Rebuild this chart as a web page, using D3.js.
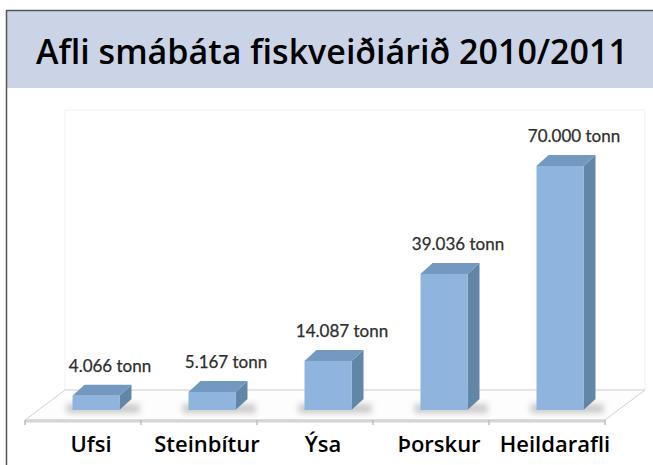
<!DOCTYPE html>
<html>
<head>
<meta charset="utf-8">
<script src="https://cdn.jsdelivr.net/npm/d3@7"></script>
<style>
  body { margin: 0; background: #fff; }
  svg { display: block; }
</style>
</head>
<body>
<svg width="653" height="465"></svg>
<script>
(function () {

	var titleText = "Afli smábáta fiskveiðiárið 2010/2011";
	var categories = ["Ufsi", "Steinbítur", "Ýsa", "Þorskur", "Heildarafli"];
	var tonnes = [4066, 5167, 14087, 39036, 70000];
	var valueLabels = ["4.066 tonn", "5.167 tonn", "14.087 tonn", "39.036 tonn", "70.000 tonn"];

	var data = categories.map(function (c, i) {
		return { name: c, value: tonnes[i], label: valueLabels[i] };
	});

	var svg = d3.select("svg");

	// frame + title band
	svg.append("rect")
		.attr("x", 6).attr("y", 10)
		.attr("width", 660).attr("height", 78)
		.attr("fill", "#cbd4e6");
	svg.append("path")
		.attr("d", "M6.5,470 V10.5 H660")
		.attr("fill", "none")
		.attr("stroke", "#555")
		.attr("stroke-width", 1.5);

	var title = svg.append("text")
		.attr("x", 36).attr("y", 64)
		.attr("font-family", "Open Sans")
		.attr("font-weight", 600)
		.attr("font-size", 30)
		.attr("fill", "#000")
		.text(titleText);
	var tw = title.node().getComputedTextLength();
	title.attr("font-size", 30 * 592 / tw);

	// scales
	var xScale = d3.scaleBand()
		.domain(categories)
		.range([25, 605]);

	var yScale = d3.scaleLinear()
		.domain([0, 70000])
		.range([410, 166]);

	var floorY = 420, floorDx = 40, floorDy = 30;
	var barW = 47, dx = 12, dy = 11, shift = 13;

	var defs = svg.append("defs");
	defs.append("filter").attr("id", "blur")
		.attr("x", "-50%").attr("y", "-50%").attr("width", "200%").attr("height", "200%")
		.append("feGaussianBlur").attr("stdDeviation", 3);

	var x0 = xScale.range()[0], x1 = xScale.range()[1];

	// back wall
	svg.append("rect")
		.attr("x", x0 + floorDx).attr("y", 110)
		.attr("width", x1 - x0).attr("height", floorY - floorDy - 110)
		.attr("fill", "#fff")
		.attr("stroke", "#f1f1f1");

	// floor
	svg.append("path")
		.attr("d", "M" + x0 + "," + floorY + " L" + x1 + "," + floorY +
			" L" + (x1 + floorDx) + "," + (floorY - floorDy) +
			" L" + (x0 + floorDx) + "," + (floorY - floorDy) + "Z")
		.attr("fill", "#fdfdfd")
		.attr("stroke", "#d0d0d0")
		.attr("stroke-width", 1);

	svg.append("line")
		.attr("x1", x0).attr("x2", x1)
		.attr("y1", floorY + 1).attr("y2", floorY + 1)
		.attr("stroke", "#d4d4d4")
		.attr("stroke-width", 3);

	var ticks = [x0].concat(categories.map(function (c) { return xScale(c) + xScale.bandwidth(); }));
	svg.selectAll("line.tick")
		.data(ticks)
		.enter()
		.append("line")
		.attr("class", "tick")
		.attr("x1", function (d) { return d; })
		.attr("x2", function (d) { return d; })
		.attr("y1", floorY)
		.attr("y2", floorY + 5)
		.attr("stroke", "#bdbdbd")
		.attr("stroke-width", 1.5);

	function bx(d) {
		return xScale(d.name) + (xScale.bandwidth() - barW) / 2 + shift;
	}

	// shadows
	svg.selectAll("rect.shadow")
		.data(data)
		.enter()
		.append("rect")
		.attr("class", "shadow")
		.attr("x", function (d) { return bx(d) - 6; })
		.attr("y", yScale(0) - 6)
		.attr("width", barW + dx + 14)
		.attr("height", 9)
		.attr("fill", "#7a7a7a")
		.attr("opacity", 0.4)
		.attr("filter", "url(#blur)");

	var bars = svg.selectAll("g.bar")
		.data(data)
		.enter()
		.append("g")
		.attr("class", "bar");

	// side face
	bars.append("path")
		.attr("d", function (d) {
			var l = bx(d) + barW, t = yScale(d.value), b = yScale(0);
			return "M" + l + "," + b + " L" + l + "," + t +
				" L" + (l + dx) + "," + (t - dy) + " L" + (l + dx) + "," + (b - dy) + "Z";
		})
		.attr("fill", "#6286a8");

	// top face
	bars.append("path")
		.attr("d", function (d) {
			var l = bx(d), t = yScale(d.value);
			return "M" + l + "," + t + " L" + (l + barW) + "," + t +
				" L" + (l + barW + dx) + "," + (t - dy) + " L" + (l + dx) + "," + (t - dy) + "Z";
		})
		.attr("fill", "#7399c1");

	// front face
	bars.append("rect")
		.attr("x", bx)
		.attr("y", function (d) { return yScale(d.value); })
		.attr("width", barW)
		.attr("height", function (d) { return yScale(0) - yScale(d.value); })
		.attr("fill", "#8fb5df");

	// value labels
	bars.append("text")
		.attr("x", function (d) { return bx(d) + barW / 2 + dx + 2; })
		.attr("y", function (d) { return yScale(d.value) - dy - 13; })
		.attr("text-anchor", "middle")
		.attr("font-family", "Lato")
		.attr("font-size", 17)
		.attr("fill", "#2e2e2e")
		.attr("stroke", "#2e2e2e")
		.attr("stroke-width", 0.25)
		.text(function (d) { return d.label; });

	// category labels
	svg.selectAll("text.cat")
		.data(categories)
		.enter()
		.append("text")
		.attr("class", "cat")
		.attr("x", function (d) { return xScale(d) + xScale.bandwidth() / 2 + 8; })
		.attr("y", 452)
		.attr("text-anchor", "middle")
		.attr("font-family", "Open Sans")
		.attr("font-weight", 600)
		.attr("font-size", 22)
		.attr("fill", "#000")
		.text(function (d) { return d; });

})();
</script>
</body>
</html>
